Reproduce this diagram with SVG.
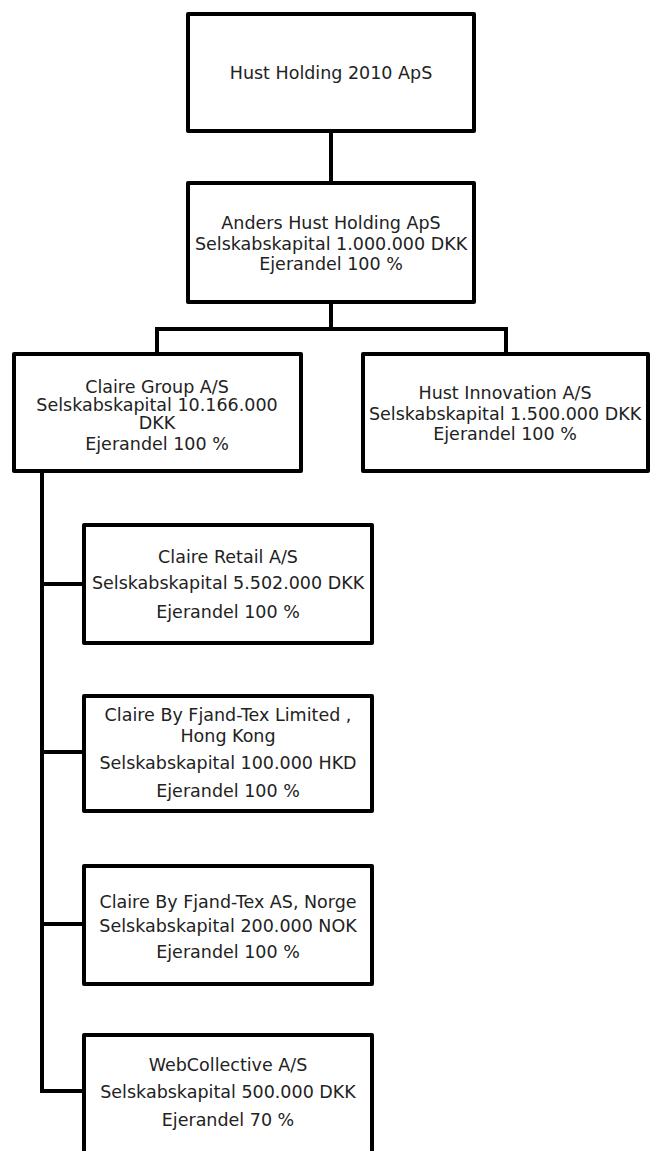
<svg xmlns="http://www.w3.org/2000/svg" width="651" height="1151" viewBox="0 0 651 1151">
<style>
.box{fill:#fff;stroke:#000;stroke-width:4;stroke-linejoin:round}
.conn{fill:none;stroke:#000;stroke-width:4;stroke-linecap:square}
text{font-family:"DejaVu Sans","Liberation Sans",sans-serif;font-size:17.5px;fill:#222;text-anchor:middle}
</style>
<rect width="651" height="1151" fill="#fff"/>
<g id="connectors">
<path class="conn" d="M331,131 V183"/>
<path class="conn" d="M331,302 V329 M157,354 V329 H506 V354"/>
<path class="conn" d="M42,471 V1091 H84"/>
<path class="conn" d="M42,584 H84 M42,752 H84 M42,924 H84"/>
</g>
<g id="hust-holding-2010">
<rect class="box" x="188" y="14" width="286" height="117"/>
<text x="331" y="79">Hust Holding 2010 ApS</text>
</g>
<g id="anders-hust-holding">
<rect class="box" x="188" y="183" width="286" height="119"/>
<text x="331" y="229">Anders Hust Holding ApS</text>
<text x="331" y="250">Selskabskapital 1.000.000 DKK</text>
<text x="331" y="270">Ejerandel 100 %</text>
</g>
<g id="claire-group">
<rect class="box" x="14" y="354" width="287" height="117"/>
<text x="157" y="393">Claire Group A/S</text>
<text x="157" y="411">Selskabskapital 10.166.000</text>
<text x="157" y="429">DKK</text>
<text x="157" y="450">Ejerandel 100 %</text>
</g>
<g id="hust-innovation">
<rect class="box" x="363" y="354" width="285" height="117"/>
<text x="505" y="399">Hust Innovation A/S</text>
<text x="505" y="420">Selskabskapital 1.500.000 DKK</text>
<text x="505" y="440">Ejerandel 100 %</text>
</g>
<g id="claire-retail">
<rect class="box" x="84" y="525" width="288" height="118"/>
<text x="228" y="563">Claire Retail A/S</text>
<text x="228" y="589">Selskabskapital 5.502.000 DKK</text>
<text x="228" y="618">Ejerandel 100 %</text>
</g>
<g id="claire-hong-kong">
<rect class="box" x="84" y="696" width="288" height="115"/>
<text x="228" y="721">Claire By Fjand-Tex Limited ,</text>
<text x="228" y="742">Hong Kong</text>
<text x="228" y="769">Selskabskapital 100.000 HKD</text>
<text x="228" y="797">Ejerandel 100 %</text>
</g>
<g id="claire-norge">
<rect class="box" x="84" y="866" width="288" height="118"/>
<text x="228" y="908">Claire By Fjand-Tex AS, Norge</text>
<text x="228" y="932">Selskabskapital 200.000 NOK</text>
<text x="228" y="958">Ejerandel 100 %</text>
</g>
<g id="webcollective">
<rect class="box" x="84" y="1035" width="288" height="130"/>
<text x="228" y="1071">WebCollective A/S</text>
<text x="228" y="1098">Selskabskapital 500.000 DKK</text>
<text x="228" y="1126">Ejerandel 70 %</text>
</g>
</svg>
